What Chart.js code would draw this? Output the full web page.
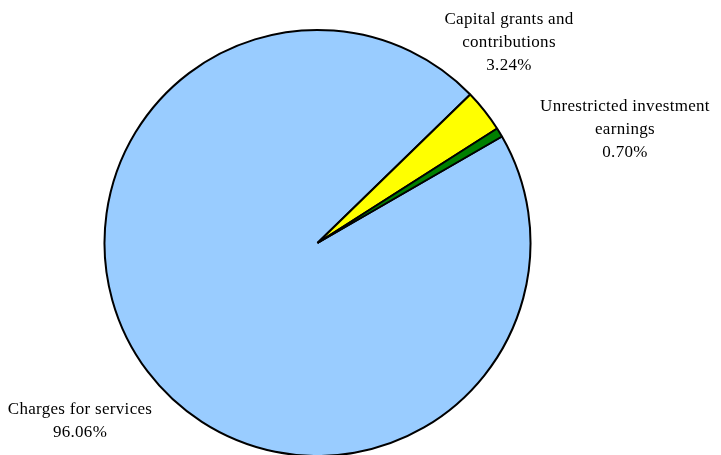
<!DOCTYPE html>
<html>
<head>
<meta charset="utf-8">
<script src="https://cdn.jsdelivr.net/npm/chart.js@4"></script>
<style>
    html, body { margin: 0; padding: 0; background: #ffffff; }
    #wrap { width: 721px; height: 455px; position: relative; }
</style>
</head>
<body>
<div id="wrap"><canvas id="revenueChart" width="721" height="455"></canvas></div>
<script>
// Revenue sources by share of total
const categories = [
    ['Charges for services'],
    ['Capital grants and', 'contributions'],
    ['Unrestricted investment', 'earnings']
];
const shares = [96.06, 3.24, 0.70];
const sliceColors = ['#99ccff', '#ffff00', '#008000'];

// where each label block is centred (first line)
const labelSpots = [
    { x: 80, y: 410 },
    { x: 509, y: 20 },
    { x: 625, y: 107 }
];

const sliceLabels = {
    id: 'sliceLabels',
    afterDraw(chart) {
        const ctx = chart.ctx;
        ctx.save();
        ctx.font = '17px "Liberation Serif", "Times New Roman", serif';
        ctx.letterSpacing = '0.3px';
        ctx.fillStyle = '#000000';
        ctx.textAlign = 'center';
        ctx.textBaseline = 'middle';
        const lineHeight = 23;
        categories.forEach(function(lines, i) {
            const spot = labelSpots[i];
            const all = lines.concat([shares[i].toFixed(2) + '%']);
            all.forEach(function(txt, j) {
                ctx.fillText(txt, spot.x, spot.y + j * lineHeight);
            });
        });
        ctx.restore();
    }
};

new Chart(document.getElementById('revenueChart').getContext('2d'), {
    type: 'pie',
    data: {
        labels: categories.map(l => l.join(' ')),
        datasets: [{
            data: shares,
            backgroundColor: sliceColors,
            borderColor: '#000000',
            borderWidth: 2
        }]
    },
    options: {
        responsive: false,
        animation: false,
        rotation: 60,
        radius: 213,
        layout: { padding: { left: 0, right: 86, top: 31, bottom: 0 } },
        plugins: {
            legend: { display: false },
            tooltip: { enabled: false }
        }
    },
    plugins: [sliceLabels]
});
</script>
</body>
</html>
